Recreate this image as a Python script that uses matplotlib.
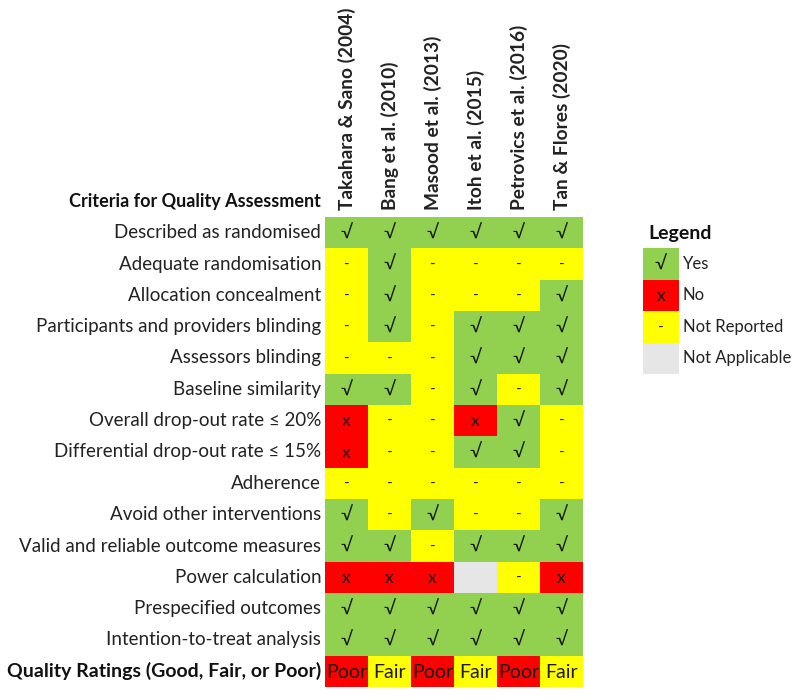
import matplotlib.pyplot as plt
import numpy as np
from matplotlib.colors import ListedColormap

plt.rcParams['font.family'] = ['Lato', 'DejaVu Sans']

studies = ["Takahara & Sano (2004)", "Bang et al. (2010)", "Masood et al. (2013)",
           "Itoh et al. (2015)", "Petrovics et al. (2016)", "Tan & Flores (2020)"]

criteria = ["Described as randomised",
            "Adequate randomisation",
            "Allocation concealment",
            "Participants and providers blinding",
            "Assessors blinding",
            "Baseline similarity",
            "Overall drop-out rate ≤ 20%",
            "Differential drop-out rate ≤ 15%",
            "Adherence",
            "Avoid other interventions",
            "Valid and reliable outcome measures",
            "Power calculation",
            "Prespecified outcomes",
            "Intention-to-treat analysis"]

# Y = yes, N = no, R = not reported, A = not applicable
ratings = [
    "YYYYYY",
    "RYRRRR",
    "RYRRRY",
    "RYRYYY",
    "RRRYYY",
    "YYRYRY",
    "NRRNYR",
    "NRRYYR",
    "RRRRRR",
    "YRYRRY",
    "YYRYYY",
    "NNNARN",
    "YYYYYY",
    "YYYYYY",
]

quality = ["Poor", "Fair", "Poor", "Fair", "Poor", "Fair"]

codes = ["Y", "N", "R", "A"]
code_colors = ["#92D050", "#FF0000", "#FFFF00", "#E7E6E6"]
code_symbols = {"Y": "√", "N": "x", "R": "-", "A": ""}
legend_labels = ["Yes", "No", "Not Reported", "Not Applicable"]
quality_code = {"Poor": "N", "Fair": "R"}

fig = plt.figure(figsize=(8, 7), dpi=100)

# main grid
ax = fig.add_axes([325 / 800, 1 - 687 / 700, 258 / 800, 470 / 700])
rows = [list(r) for r in ratings] + [[quality_code[q] for q in quality]]
grid = np.array([[codes.index(c) for c in r] for r in rows])
cmap = ListedColormap(code_colors)
ax.pcolormesh(np.arange(7), np.arange(16), grid, cmap=cmap, vmin=-0.5, vmax=3.5)
ax.set_xlim(0, 6)
ax.set_ylim(15, 0)
ax.axis('off')

sym_size = {"Y": 14, "N": 12.5, "R": 11, "A": 11}
for i, r in enumerate(ratings):
    for j, c in enumerate(r):
        ax.text(j + 0.5, i + 0.52, code_symbols[c], ha='center', va='center',
                fontsize=sym_size[c], color='#1a1a1a')
for j, q in enumerate(quality):
    ax.text(j + 0.5, 14.55, q, ha='center', va='center', fontsize=14, color='#1a1a1a')

for i, name in enumerate(criteria):
    ax.text(-0.09, i + 0.5, name, ha='right', va='center', fontsize=13.5, color='#222222')
ax.text(-0.09, 14.5, "Quality Ratings (Good, Fair, or Poor)", ha='right', va='center',
        fontsize=14, fontweight='bold', color='#111111')
ax.text(-0.09, -0.5, "Criteria for Quality Assessment", ha='right', va='center',
        fontsize=13, fontweight='bold', color='#111111')

for j, s in enumerate(studies):
    ax.text(j + 0.5, -0.22, s, rotation=90, ha='center', va='bottom',
            fontsize=13.8, fontweight='bold', color='#222222')

# legend
lax = fig.add_axes([643 / 800, 1 - 374 / 700, 36 / 800, 126 / 700])
lax.pcolormesh(np.arange(2), np.arange(5), np.arange(4).reshape(4, 1), cmap=cmap,
               vmin=-0.5, vmax=3.5)
lax.set_xlim(0, 1)
lax.set_ylim(4, 0)
lax.axis('off')
for i, c in enumerate(codes):
    lax.text(0.5, i + 0.52, code_symbols[c], ha='center', va='center',
             fontsize=sym_size[c], color='#1a1a1a')
    lax.text(1.1, i + 0.5, legend_labels[i], ha='left', va='center', fontsize=12,
             color='#222222')
lax.text(0.15, -0.45, "Legend", ha='left', va='center', fontsize=14,
         fontweight='bold', color='#111111')

fig.savefig("out.png", dpi=100, facecolor='white')
